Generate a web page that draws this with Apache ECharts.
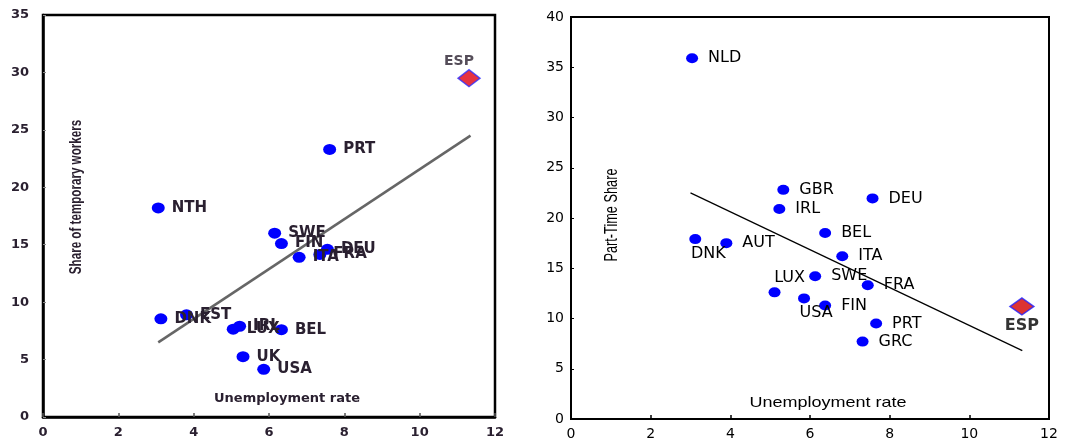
<!DOCTYPE html>
<html>
<head>
<meta charset="utf-8">
<script src="https://cdn.jsdelivr.net/npm/echarts@6/dist/echarts.min.js"></script>
<style>html,body{margin:0;padding:0;background:#fff;}#c{width:1071px;height:441px;}</style>
</head>
<body>
<div id="c"></div>
<script>
// ---- Left panel: temporary workers ----
const leftNames = ['NTH','PRT','SWE','FIN','DEU','FRA','ITA','DNK','EST','LUX','IRL','BEL','UK','USA'];
const leftUnemp = [3.06,7.61,6.15,6.33,7.55,7.35,6.80,3.13,3.81,5.05,5.22,6.33,5.31,5.86];
const leftTemp  = [18.2,23.3,16.0,15.1,14.6,14.15,13.9,8.55,8.9,7.65,7.9,7.6,5.25,4.15];
const leftEsp = {name:'ESP', x:11.31, y:29.5};
const leftTrendX = [3.06, 11.35];
const leftTrendY = [6.5, 24.5];

// ---- Right panel: part-time share ----
const rightNames = ['NLD','GBR','IRL','DEU','BEL','DNK','AUT','ITA','SWE','FRA','LUX','USA','FIN','PRT','GRC'];
const rightUnemp = [3.04,5.33,5.23,7.57,6.38,3.12,3.90,6.81,6.13,7.45,5.11,5.85,6.38,7.66,7.32];
const rightPart  = [35.9,22.8,20.9,21.95,18.5,17.9,17.5,16.2,14.2,13.3,12.6,12.0,11.3,9.5,7.7];
const rightEsp = {name:'ESP', x:11.32, y:11.2};
const rightTrendX = [3.0, 11.33];
const rightTrendY = [22.5, 6.8];

const xTicks = [0,2,4,6,8,10,12];
const leftYMax = 35, rightYMax = 40;

// label placements (style only)
const rightLabelPlace = {
  DNK:{position:'bottom', offset:[13,0], distance:2},
  LUX:{position:'top', offset:[15,0], distance:2},
  USA:{position:'bottom', offset:[12,0], distance:1}
};

const leftTxt = '#2a2030';
const chart = echarts.init(document.getElementById('c'), null, {renderer:'canvas'});

const leftData = leftNames.map((n,i)=>({name:n, value:[leftUnemp[i], leftTemp[i]]}));
const rightData = rightNames.map((n,i)=>{
  const d = {name:n, value:[rightUnemp[i], rightPart[i]]};
  if (rightLabelPlace[n]) d.label = Object.assign({}, rightLabelPlace[n]);
  return d;
});

chart.setOption({
  animation:false,
  grid:[
    {left:43, right:576, top:15, bottom:24, show:true, borderColor:'#000', borderWidth:2.5, backgroundColor:'transparent'},
    {left:571, right:22, top:17, bottom:22, show:true, borderColor:'#000', borderWidth:2, backgroundColor:'transparent'}
  ],
  xAxis:[
    {gridIndex:0, type:'value', min:0, max:12, interval:2,
     axisLine:{show:true, lineStyle:{color:'#000', width:2.5}},
     axisTick:{show:true, inside:true, length:4, lineStyle:{color:'#555', width:1.5}},
     axisLabel:{color:leftTxt, fontFamily:'DejaVu Sans', fontWeight:'bold', fontSize:13, margin:9,
       formatter:v=>xTicks.includes(v)?String(v):''},
     splitLine:{show:false}},
    {gridIndex:1, type:'value', min:0, max:12, interval:2,
     axisLine:{show:true, lineStyle:{color:'#000', width:2}},
     axisTick:{show:true, inside:true, length:4, lineStyle:{color:'#000', width:1.5}},
     axisLabel:{color:'#000', fontFamily:'DejaVu Sans', fontSize:14, margin:8},
     splitLine:{show:false}}
  ],
  yAxis:[
    {gridIndex:0, type:'value', min:0, max:leftYMax, interval:5,
     axisLine:{show:true, lineStyle:{color:'#000', width:2.5}},
     axisTick:{show:true, inside:true, length:3, lineStyle:{color:'#888', width:1}},
     axisLabel:{color:leftTxt, fontFamily:'DejaVu Sans', fontWeight:'bold', fontSize:13, margin:14},
     splitLine:{show:false}},
    {gridIndex:1, type:'value', min:0, max:rightYMax, interval:5,
     axisLine:{show:true, lineStyle:{color:'#000', width:2}},
     axisTick:{show:true, inside:true, length:3, lineStyle:{color:'#000', width:1}},
     axisLabel:{color:'#000', fontFamily:'DejaVu Sans', fontSize:14, margin:7},
     splitLine:{show:false}}
  ],
  graphic:[
    {type:'text', x:77, y:197, rotation:Math.PI/2, scaleX:0.83, scaleY:1.15,
     style:{text:'Share of temporary workers', fill:leftTxt,
      font:'bold 14px "Liberation Sans", Arial', textAlign:'center', textVerticalAlign:'middle'}},
    {type:'text', x:287, y:399,
     style:{text:'Unemployment rate', fill:leftTxt,
      font:'bold 13px "DejaVu Sans"', textAlign:'center', textVerticalAlign:'middle'}},
    {type:'text', x:612, y:215, rotation:Math.PI/2, scaleX:0.91, scaleY:1.3,
     style:{text:'Part-Time Share', fill:'#000',
      font:'14px "Liberation Sans", Arial', textAlign:'center', textVerticalAlign:'middle'}},
    {type:'text', x:828, y:403, scaleX:1.2,
     style:{text:'Unemployment rate', fill:'#000',
      font:'15px "Liberation Sans", Arial', textAlign:'center', textVerticalAlign:'middle'}}
  ],
  series:[
    {type:'line', xAxisIndex:0, yAxisIndex:0, symbol:'none', silent:true,
     data:leftTrendX.map((x,i)=>[x, leftTrendY[i]]),
     lineStyle:{color:'#666', width:2.5}, z:2},
    {type:'scatter', xAxisIndex:0, yAxisIndex:0, data:leftData, symbol:'circle', symbolSize:[13,11],
     itemStyle:{color:'#0000ff', opacity:1}, z:3,
     label:{show:true, position:'right', distance:7, formatter:'{b}', color:leftTxt,
       fontFamily:'DejaVu Sans', fontWeight:'bold', fontSize:15}},
    {type:'scatter', xAxisIndex:0, yAxisIndex:0, data:[{name:leftEsp.name, value:[leftEsp.x, leftEsp.y]}],
     symbol:'diamond', symbolSize:[22,17],
     itemStyle:{color:'#e00010', borderColor:'#3030ff', borderWidth:1.5}, z:4,
     label:{show:true, position:'top', distance:1, offset:[-10,0], formatter:'{b}', color:leftTxt,
       fontFamily:'DejaVu Sans', fontWeight:'bold', fontSize:14}},

    {type:'line', xAxisIndex:1, yAxisIndex:1, symbol:'none', silent:true,
     data:rightTrendX.map((x,i)=>[x, rightTrendY[i]]),
     lineStyle:{color:'#000', width:1.2}, z:2},
    {type:'scatter', xAxisIndex:1, yAxisIndex:1, data:rightData, symbol:'circle', symbolSize:[12,10],
     itemStyle:{color:'#0000ff', opacity:1}, z:3,
     label:{show:true, position:'right', distance:10, formatter:'{b}', color:'#000',
       fontFamily:'DejaVu Sans', fontSize:16}},
    {type:'scatter', xAxisIndex:1, yAxisIndex:1, data:[{name:rightEsp.name, value:[rightEsp.x, rightEsp.y]}],
     symbol:'diamond', symbolSize:[24,17],
     itemStyle:{color:'#d40000', borderColor:'#2020ff', borderWidth:1.5}, z:4,
     label:{show:true, position:'bottom', distance:2, formatter:'{b}', color:'#000',
       fontFamily:'DejaVu Sans', fontWeight:'bold', fontSize:16}}
  ]
});
</script>
</body>
</html>
